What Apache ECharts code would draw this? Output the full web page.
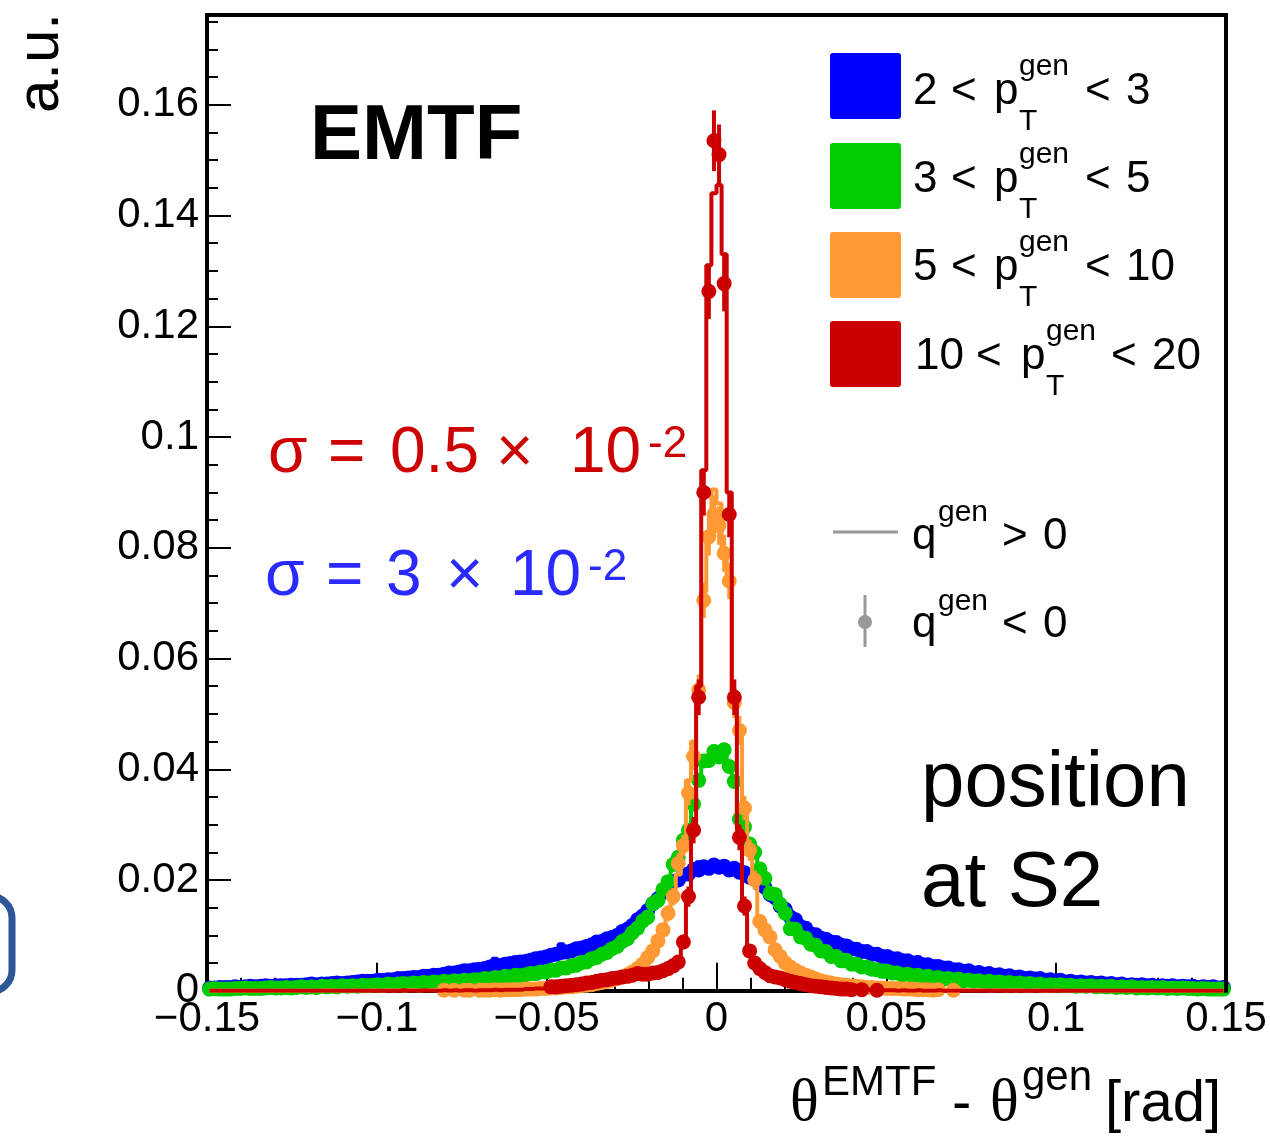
<!DOCTYPE html>
<html><head><meta charset="utf-8">
<script src="https://cdn.jsdelivr.net/npm/echarts@6/dist/echarts.min.js"></script>
<style>html,body{margin:0;padding:0;background:#fff}#c{width:1270px;height:1137px}</style>
</head><body><div id="c"></div>
<script>
// ---------- binning ----------
const X_MIN = -0.15, X_MAX = 0.15, N_BINS = 200;
const UNIT = 1e-4;            // all values below are in units of 1e-4 (a.u.)
const Y_TOP = 0.1762;         // top of frame
const xTickValues = [-0.15, -0.1, -0.05, 0, 0.05, 0.1, 0.15];
const yTickValues = [0, 0.02, 0.04, 0.06, 0.08, 0.1, 0.12, 0.14, 0.16];

const seriesLabels = ['2 < pT < 3', '3 < pT < 5', '5 < pT < 10', '10 < pT < 20'];
const seriesColors = ['#0000ff', '#00cc00', '#ff9933', '#cc0000'];
const errScale = [0.004, 0.006, 0.012, 0.014]; // stat. error ~ scale*sqrt(value)

// ---------- q>0 histograms (lines) and q<0 points, 200 bins each ----------
const blueHist = [
5,6,5,6,7,6,7,7,8,7, 8,8,9,8,9,10,9,10,11,11, 11,12,12,13,12,13,14,15,15,16, 16,17,18,18,19,20,21,21,22,23,
24,25,26,27,28,29,30,31,33,34, 35,37,38,40,41,42,58,46,47,49, 52,54,56,58,60,63,66,68,71,84, 76,78,80,83,86,89,91,94,97,100,
103,107,112,119,127,136,146,156,167,177, 186,195,202,208,213,217,232,222,224,228,
226,223,221,219,216,212,207,201,194,185, 176,166,155,145,135,126,118,111,105,100, 96,92,89,86,83,80,77,74,72,70, 67,65,63,61,59,57,55,53,51,60,
48,46,45,43,42,40,39,37,36,35, 33,32,31,30,29,28,27,26,25,24, 23,22,21,21,20,19,18,18,17,16, 16,15,15,14,13,13,12,12,12,11,
11,10,10,10,9,9,9,8,8,8, 8,7,7,7,7,6,6,6,6,5];
const bluePts = [
5,5,6,6,6,7,6,7,8,7, 8,9,8,9,9,9,10,10,10,11, 12,11,12,12,13,14,13,14,15,16, 17,17,17,19,19,20,20,22,22,23,
24,24,26,26,28,28,30,32,32,34, 36,36,38,39,40,43,44,45,48,49, 51,52,53,55,58,59,61,64,66,69, 70,72,76,77,80,83,88,89,94,96,
100,107,111,118,128,135,145,157,166,178, 184,197,200,210,211,219,218,224,221,227,
223,225,218,221,214,213,205,203,192,187, 174,168,153,147,133,128,116,113,103,101, 95,93,88,87,82,81,76,75,71,71, 66,66,62,62,58,58,54,54,50,51,
47,47,44,44,41,41,38,38,35,36, 32,33,30,31,28,29,26,27,24,25, 22,23,21,22,19,20,17,19,16,17, 15,16,14,15,13,14,12,13,11,12,
10,11,10,11,9,10,8,9,8,9, 7,8,7,8,6,7,6,7,5,6];

const greenHist = [
3,3,4,3,4,3,4,4,5,4, 5,4,5,5,6,5,6,6,6,7, 6,7,7,8,7,8,8,9,8,9, 9,10,10,10,11,11,12,11,12,13,
13,14,14,15,15,16,16,17,17,18, 18,19,20,21,21,22,23,24,25,26, 27,28,30,30,32,33,35,36,38,40, 42,44,47,50,53,57,61,65,70,75,
81,88,95,104,115,124,135,155,166,180, 200,224,245,268,295,330,385,410,420,425,
430,428,412,372,318,290,272,250,226,198, 181,170,165,136,116,108,100,93,86,80, 74,69,64,60,56,53,49,47,44,42, 40,37,36,34,33,31,30,29,28,27,
26,25,24,23,22,21,20,20,19,18, 18,17,16,16,15,15,14,14,13,13, 12,12,11,11,11,10,10,10,9,9, 9,8,8,8,8,7,7,7,7,6,
6,6,6,6,5,5,5,5,5,5, 4,4,4,4,4,4,3,3,3,3];
const greenPts = [
3,4,3,3,3,4,4,5,4,4, 4,5,6,5,5,6,5,6,7,6, 7,6,8,7,8,7,9,8,9,8, 10,9,10,11,10,12,11,12,13,12,
14,13,15,14,16,15,17,16,18,17, 19,18,20,20,22,21,24,23,26,25, 28,27,29,31,31,34,34,37,37,41, 41,45,46,51,52,58,60,66,69,76,
80,89,94,105,113,126,133,157,163,183, 197,228,241,272,290,337,380,415,416,432,
422,435,405,378,310,296,265,250,220,203, 176,174,156,140,112,111,97,95,84,82, 72,71,62,62,54,55,48,48,43,43, 39,38,35,35,32,32,29,30,27,28,
25,26,23,24,21,22,20,21,18,19, 17,18,16,17,15,16,14,15,13,14, 12,13,11,12,10,11,10,11,9,10, 8,9,8,9,7,8,7,8,6,7,
6,7,5,6,5,6,5,6,4,5, 4,5,4,4,3,4,3,3,3,3];

const orangeHist = [
0,0,0,0,0,0,0,0,0,0, 0,0,0,0,0,0,0,0,0,0, 0,0,0,1,0,0,0,0,1,0, 0,0,1,0,0,1,0,1,0,1,
1,0,1,1,1,1,1,2,1,2, 2,2,1,2,2,2,3,2,3,3, 3,3,4,4,4,5,5,6,6,7, 7,8,9,10,11,13,15,17,19,21,
22,25,29,34,40,48,58,72,90,112, 140,170,210,265,380,450,545,720,810,905,
880,790,745,525,465,335,255,200,128,110, 96,76,62,51,43,37,32,28,25,21, 18,16,14,12,11,10,9,8,7,6, 6,5,5,4,4,4,3,3,3,3,
2,2,2,2,2,2,1,2,1,1, 1,1,1,0,1,1,0,1,0,1, 0,0,1,0,0,0,1,0,0,0, 0,0,0,0,0,0,0,0,0,0,
0,0,0,0,0,0,0,0,0,0, 0,0,0,0,0,0,0,0,0,0];
const orangePts = [
null,null,null,null,null,null,null,null,null,null, null,null,null,null,null,null,null,null,null,null,
null,null,null,null,null,null,null,null,null,null, null,null,null,null,null,null,null,null,null,null,
null,null,null,null,null,null,1,null,1,null, 1,1,null,1,1,1,2,1,2,2, 2,2,3,3,3,4,4,5,5,6, 7,7,8,9,10,11,13,15,17,19,
22,25,29,34,40,48,60,72,90,110, 140,170,230,262,357,423,543,705,820,860,
840,790,740,520,470,330,254,200,125,110, 97,74,62,50,43,37,32,28,25,21, 18,16,14,12,11,10,9,8,7,6, 6,5,5,4,4,4,3,3,3,2,
2,2,1,2,null,null,1,null,null,null, null,null,null,null,null,null,null,null,null,null,
null,null,null,null,null,null,null,null,null,null, null,null,null,null,null,null,null,null,null,null,
null,null,null,null,null,null,null,null,null,null, null,null,null,null,null,null,null,null,null,null];

const redHist = [
0,0,0,0,0,0,0,0,0,0, 0,0,0,0,0,0,0,0,0,0, 0,0,0,0,0,0,0,0,0,0, 0,0,0,0,0,0,0,0,1,0,
0,0,1,0,0,0,1,0,1,0, 1,1,0,1,1,1,2,1,2,2, 2,2,3,3,4,4,5,6,7,8, 9,10,11,12,13,15,16,18,20,22,
23,25,26,27,28,29,30,31,33,35, 38,45,55,90,180,300,550,940,1310,1440,
1455,1330,900,540,290,160,80,50,36,30, 26,23,21,19,16,14,12,10,8,7, 6,5,4,4,3,3,3,2,2,2, 1,1,1,1,1,0,1,0,0,1,
0,0,0,1,0,0,0,0,0,0, 0,0,0,0,0,0,0,0,0,0, 0,0,0,0,0,0,0,0,0,0, 0,0,0,0,0,0,0,0,0,0,
0,0,0,0,0,0,0,0,0,0, 0,0,0,0,0,0,0,0,0,0];
const redPts = [
null,null,null,null,null,null,null,null,null,null, null,null,null,null,null,null,null,null,null,null,
null,null,null,null,null,null,null,null,null,null, null,null,null,null,null,null,null,null,null,null,
null,null,null,null,null,null,null,null,null,null, null,null,null,null,null,null,null,null,null,null,
null,null,null,null,null,null,null,7,7,8, 9,10,11,12,14,15,17,19,20,22,
23,25,26,28,31,30,30,32,33,36, 40,45,52,88,170,290,530,900,1263,1535,
1510,1277,860,530,277,153,72,50,40,33, 27,25,23,20,17,15,13,11,9,8, 7,6,5,4,3,3,2,null,2,null, null,1,null,null,null,null,null,null,null,null,
null,null,null,null,null,null,null,null,null,null, null,null,null,null,null,null,null,null,null,null,
null,null,null,null,null,null,null,null,null,null, null,null,null,null,null,null,null,null,null,null,
null,null,null,null,null,null,null,null,null,null, null,null,null,null,null,null,null,null,null,null];

const histArrays = [blueHist, greenHist, orangeHist, redHist];
const ptsArrays = [bluePts, greenPts, orangePts, redPts];

// ---------- build ----------
const binW = (X_MAX - X_MIN) / N_BINS;
const centers = Array.from({length: N_BINS}, (_, i) => X_MIN + (i + 0.5) * binW);
const SANS = "'Liberation Sans', Arial, Helvetica, sans-serif";
const SERIF = "'Liberation Serif', 'Times New Roman', serif";

const series = [];
histArrays.forEach((h, s) => {
  const col = seriesColors[s];
  series.push({
    type: 'line', step: 'middle', symbol: 'none', showSymbol: false, animation: false,
    data: centers.map((x, i) => [x, h[i] * UNIT]),
    lineStyle: {color: col, width: 4}, z: 2 + s * 3
  });
  const pts = [];
  ptsArrays[s].forEach((v, i) => { if (v != null) pts.push([centers[i], v * UNIT, errScale[s] * Math.sqrt(v * UNIT)]); });
  series.push({
    type: 'custom', data: pts, clip: false, animation: false, z: 3 + s * 3,
    encode: {x: 0, y: 1},
    renderItem: (params, api) => {
      const x = api.value(0), y = api.value(1), e = api.value(2);
      const a = api.coord([x, y - e]), b = api.coord([x, y + e]);
      return {type: 'line', shape: {x1: a[0], y1: a[1], x2: b[0], y2: b[1]}, style: {stroke: col, lineWidth: 4}};
    }
  });
  series.push({
    type: 'scatter', data: pts.map(p => [p[0], p[1]]), symbol: 'circle', symbolSize: 15,
    itemStyle: {color: col, opacity: 1}, clip: false, animation: false, z: 4 + s * 3
  });
});

const fmt = v => {
  const r = Number(v.toFixed(3));
  if (r === 0) return '0';
  return (r < 0 ? '\u2212' : '') + String(Math.abs(r));
};

const chart = echarts.init(document.getElementById('c'), null, {renderer: 'canvas'});
const option = {
  backgroundColor: '#fff',
  animation: false,
  grid: {left: 207, right: 44, top: -6, bottom: 146.25, containLabel: false, outerBoundsMode: 'none'},
  xAxis: {
    type: 'value', min: X_MIN, max: X_MAX, interval: 0.05,
    axisLine: {onZero: false, lineStyle: {color: '#000', width: 4}},
    axisTick: {inside: true, length: 28, lineStyle: {color: '#000', width: 2}},
    minorTick: {show: true, splitNumber: 5, length: 13, lineStyle: {color: '#000', width: 2}},
    splitLine: {show: false}, minorSplitLine: {show: false},
    axisLabel: {formatter: fmt, fontFamily: SANS, fontSize: 42, color: '#000', margin: 8}
  },
  yAxis: {
    type: 'value', min: 0, max: 0.18, interval: 0.02,
    axisLine: {show: true, onZero: false, lineStyle: {color: '#000', width: 4}},
    axisTick: {show: true, inside: true, length: 24, lineStyle: {color: '#000', width: 2}},
    minorTick: {show: true, splitNumber: 4, length: 11, lineStyle: {color: '#000', width: 2}},
    splitLine: {show: false}, minorSplitLine: {show: false},
    axisLabel: {formatter: fmt, fontFamily: SANS, fontSize: 42, color: '#000', margin: 8, showMaxLabel: false}
  },
  series
};
chart.setOption(option);

// ---------- frame and text ----------
const pBL = chart.convertToPixel({gridIndex: 0}, [X_MIN, 0]);
const pTR = chart.convertToPixel({gridIndex: 0}, [X_MAX, Y_TOP]);

function txt(text, x, baseline, size, o) {
  o = o || {};
  return {type: 'text', x: x, y: baseline - 0.3465 * size, z: 60, silent: true,
    style: {text: text, fontSize: size, fontFamily: o.family || SANS, fontWeight: o.weight || 'normal',
      fill: o.color || '#000', align: o.align || 'left', verticalAlign: 'middle'}};
}
const g = [];
// cover the axis above the frame
g.push({type: 'rect', z: 40, silent: true, shape: {x: pBL[0] - 20, y: -20, width: 60, height: pTR[1] + 18}, style: {fill: '#fff'}});
// frame top + right
g.push({type: 'polyline', z: 45, silent: true, shape: {points: [[pBL[0] - 2, pTR[1]], [pTR[0], pTR[1]], [pTR[0], pBL[1] + 2]]},
  style: {stroke: '#000', lineWidth: 4, fill: null}});
// left blue bracket (slide decoration)
g.push({type: 'rect', z: 45, silent: true, shape: {x: -60, y: 896, width: 72, height: 96, r: 22}, style: {fill: null, stroke: '#2c5697', lineWidth: 7}});

// a.u.
g.push({type: 'text', x: 41, y: 13, rotation: Math.PI / 2, z: 60, silent: true,
  style: {text: 'a.u.', fontSize: 60, fontFamily: SANS, fill: '#000', align: 'right', verticalAlign: 'middle'}});
// x title
g.push(txt('\u03b8', 790, 1125, 60, {family: SERIF}));
g.push(txt('EMTF', 822, 1098, 42));
g.push(txt('-', 952, 1125, 58));
g.push(txt('\u03b8', 990, 1125, 60, {family: SERIF}));
g.push(txt('gen', 1022, 1093, 42));
g.push(txt('[rad]', 1105, 1125, 58));
// EMTF label
g.push(txt('EMTF', 310, 165, 78, {weight: 'bold'}));
// sigma labels
const RED = '#cc0000', BLUE = '#2a2aff';
g.push(txt('\u03c3', 268, 477, 64, {color: RED}));
g.push(txt('=', 328, 477, 64, {color: RED}));
g.push(txt('0.5', 390, 477, 64, {color: RED}));
g.push(txt('\u00d7', 496, 477, 64, {color: RED}));
g.push(txt('10', 570, 477, 64, {color: RED}));
g.push(txt('-2', 648, 460, 44, {color: RED}));
g.push(txt('\u03c3', 265, 600, 64, {color: BLUE}));
g.push(txt('=', 326, 600, 64, {color: BLUE}));
g.push(txt('3', 386, 600, 64, {color: BLUE}));
g.push(txt('\u00d7', 446, 600, 64, {color: BLUE}));
g.push(txt('10', 510, 600, 64, {color: BLUE}));
g.push(txt('-2', 588, 583, 44, {color: BLUE}));
// position at S2
g.push(txt('position', 921, 812, 78));
g.push(txt('at S2', 921, 912, 78));

// legend (pT bins)
const legRows = [
  {lo: '2', hi: '3', b: 107, xs: [913, 951, 994, 1019, 1085, 1126]},
  {lo: '3', hi: '5', b: 195, xs: [913, 951, 994, 1019, 1085, 1126]},
  {lo: '5', hi: '10', b: 283, xs: [913, 951, 994, 1019, 1085, 1126]},
  {lo: '10', hi: '20', b: 372, xs: [915, 976, 1021, 1046, 1111, 1152]}
];
const boxTops = [53, 143, 232, 321];
legRows.forEach((r, i) => {
  g.push({type: 'rect', z: 60, silent: true, shape: {x: 830, y: boxTops[i], width: 71, height: 66, r: 3}, style: {fill: seriesColors[i]}});
  g.push(txt(r.lo, r.xs[0], r.b, 44));
  g.push(txt('<', r.xs[1], r.b, 44));
  g.push(txt('p', r.xs[2], r.b, 44));
  g.push(txt('gen', r.xs[3], r.b - 30, 30));
  g.push(txt('T', r.xs[3], r.b + 25, 30));
  g.push(txt('<', r.xs[4], r.b, 44));
  g.push(txt(r.hi, r.xs[5], r.b, 44));
});
// legend (charge)
const GREY = '#999999';
g.push({type: 'line', z: 60, silent: true, shape: {x1: 833, y1: 532, x2: 898, y2: 532}, style: {stroke: GREY, lineWidth: 3}});
g.push(txt('q', 912, 552, 44)); g.push(txt('gen', 938, 523, 30)); g.push(txt('>', 1002, 552, 44)); g.push(txt('0', 1043, 552, 44));
g.push({type: 'line', z: 60, silent: true, shape: {x1: 865, y1: 595, x2: 865, y2: 647}, style: {stroke: GREY, lineWidth: 3}});
g.push({type: 'circle', z: 61, silent: true, shape: {cx: 865, cy: 622, r: 7}, style: {fill: GREY}});
g.push(txt('q', 912, 640, 44)); g.push(txt('gen', 938, 612, 30)); g.push(txt('<', 1002, 640, 44)); g.push(txt('0', 1043, 640, 44));

chart.setOption({graphic: {elements: g}});
</script>
</body></html>
